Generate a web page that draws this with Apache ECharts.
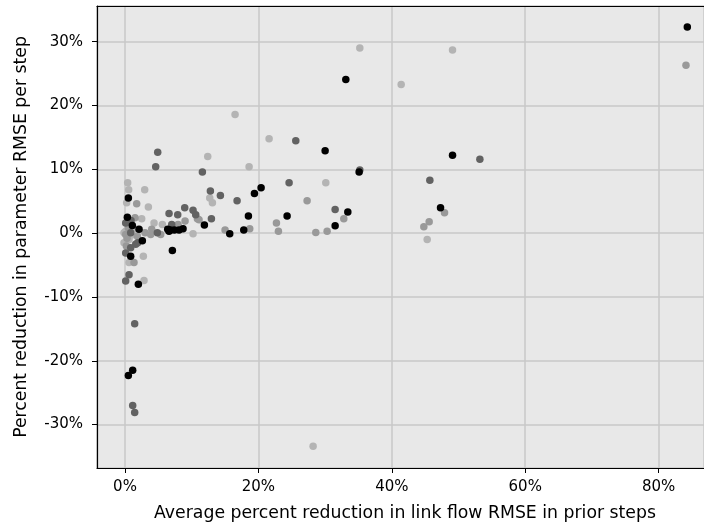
<!DOCTYPE html>
<html lang="en" style="height: 100%">
<head>
  <meta charset="utf-8">
</head>
<body style="height: 100%; margin: 0; background: #fff; overflow: hidden">
  <div id="container" style="width: 704px; height: 527px"></div>
  <script type="text/javascript" src="https://fastly.jsdelivr.net/npm/echarts@6.0.0/dist/echarts.min.js"></script>
  <script type="text/javascript">
    // [x: avg % reduction in link flow RMSE, y: % reduction in parameter RMSE]
    var lightPts = [
      [16.5, 18.6], [21.6, 14.8], [12.4, 12.0], [18.6, 10.4], [0.4, 7.9], [0.55, 6.8],
      [2.95, 6.8], [12.7, 5.5], [13.1, 4.75], [35.2, 29.0], [49.1, 28.7], [41.4, 23.3],
      [30.1, 7.9], [45.3, -1.0], [28.2, -33.4], [3.5, 4.1], [0.25, 4.75], [2.5, 2.25],
      [4.35, 1.6], [5.6, 1.35], [0.1, 0.3], [10.2, -0.1], [2.85, -7.4], [2.75, -3.6],
      [0.6, -4.6], [-0.15, -1.5], [0.6, -1.0], [-0.15, 0.05], [1.0, -0.3], [1.3, 0.6]
    ];
    var midPts = [
      [27.3, 5.1], [32.8, 2.25], [30.3, 0.3], [28.6, 0.1], [47.9, 3.2], [45.6, 1.8],
      [44.8, 1.0], [22.7, 1.6], [23.0, 0.3], [18.7, 0.7], [15.0, 0.5], [84.1, 26.3],
      [1.75, 4.6], [1.5, 2.4], [4.0, 0.6], [3.0, 0.05], [9.0, 1.9], [10.85, 2.25],
      [7.95, 1.35], [0.1, -0.2], [1.85, -0.5], [3.85, -0.2], [5.35, -0.2], [1.35, -4.6],
      [11.1, 2.1], [0.3, -0.8], [0.5, 0.8], [0.2, -2.0]
    ];
    var darkPts = [
      [25.6, 14.5], [4.9, 12.7], [4.6, 10.4], [11.6, 9.6], [12.8, 6.6], [14.3, 5.9],
      [24.6, 7.9], [16.8, 5.1], [53.2, 11.6], [45.7, 8.3], [31.5, 3.7], [35.2, 9.9],
      [6.6, 3.1], [7.9, 2.9], [8.95, 4.0], [10.2, 3.6], [10.6, 2.9], [12.95, 2.25],
      [7.0, 1.35], [0.9, 2.0], [0.1, 1.6], [0.85, 0.05], [4.85, 0.05], [1.6, -1.75],
      [0.85, -2.3], [0.1, -3.1], [0.6, -6.5], [0.1, -7.5], [1.45, -14.2], [1.15, -27.0],
      [1.45, -28.1], [1.9, -1.5]
    ];
    var blackPts = [
      [0.5, 5.5], [20.4, 7.1], [19.4, 6.2], [33.1, 24.1], [30.0, 12.9], [49.1, 12.2],
      [35.1, 9.6], [33.4, 3.3], [31.5, 1.15], [24.3, 2.7], [47.3, 4.0], [84.3, 32.3],
      [18.5, 2.7], [17.8, 0.5], [15.7, -0.1], [11.9, 1.3], [7.1, -2.7], [6.4, 0.6],
      [6.8, 0.5], [7.4, 0.5], [8.1, 0.5], [8.7, 0.7], [0.35, 2.5], [2.1, 0.6],
      [1.1, 1.2], [6.6, 0.3], [2.6, -1.2], [0.85, -3.6], [2.0, -8.0], [1.15, -21.5],
      [0.5, -22.3]
    ];

    var groups = [
      { data: lightPts, color: '#b4b4b4' },
      { data: midPts, color: '#999999' },
      { data: darkPts, color: '#626262' },
      { data: blackPts, color: '#000000' }
    ];

    var dom = document.getElementById('container');
    var myChart = echarts.init(dom, null, { renderer: 'canvas' });

    var font = 'DejaVu Sans';
    var pct = function (v) { return Math.round(v) + '%'; };
    // the right side of the plot box is cut off by the picture edge
    var xMin = -4.2, xMax = 86.8;

    var option = {
      animation: false,
      textStyle: { fontFamily: font },
      grid: {
        left: 97, top: 6, right: 0, bottom: 59,
        show: true,
        backgroundColor: '#e8e8e8',
        borderWidth: 0
      },
      xAxis: [{
        type: 'value',
        min: xMin,
        max: xMax,
        splitNumber: 5,
        name: 'Average percent reduction in link flow RMSE in prior steps',
        nameLocation: 'middle',
        nameGap: 37,
        nameTextStyle: { color: '#000', fontSize: 17.3, fontFamily: font, padding: [0, 0, 0, 9] },
        axisLine: { show: true, onZero: false, lineStyle: { color: '#000', width: 1.2 } },
        axisTick: { show: true, length: 5, lineStyle: { color: '#000' } },
        axisLabel: {
          color: '#000', fontSize: 15, fontFamily: font, margin: 12,
          showMinLabel: false, showMaxLabel: false,
          formatter: pct
        },
        splitLine: { show: true, lineStyle: { color: '#c8c8c8', width: 1.5 } }
      }, {
        // top spine only
        type: 'value',
        position: 'top',
        min: xMin,
        max: xMax,
        axisLine: { show: true, onZero: false, lineStyle: { color: '#000', width: 1.2 } },
        axisTick: { show: false },
        axisLabel: { show: false },
        splitLine: { show: false }
      }],
      yAxis: {
        type: 'value',
        min: -36.8,
        max: 35.6,
        splitNumber: 6,
        name: 'Percent reduction in parameter RMSE per step',
        nameLocation: 'middle',
        nameGap: 67,
        nameTextStyle: { color: '#000', fontSize: 17.3, fontFamily: font },
        axisLine: { show: true, onZero: false, lineStyle: { color: '#000', width: 1.2 } },
        axisTick: { show: true, length: 5, lineStyle: { color: '#000' } },
        axisLabel: {
          color: '#000', fontSize: 15, fontFamily: font, margin: 14,
          showMinLabel: false, showMaxLabel: false,
          formatter: pct
        },
        splitLine: { show: true, lineStyle: { color: '#c8c8c8', width: 1.5 } }
      },
      series: groups.map(function (g) {
        return {
          type: 'scatter',
          data: g.data,
          symbolSize: 7.5,
          itemStyle: { color: g.color, opacity: 1 },
          emphasis: { disabled: true }
        };
      })
    };

    myChart.setOption(option);
    window.addEventListener('resize', myChart.resize);
  </script>
</body>
</html>
